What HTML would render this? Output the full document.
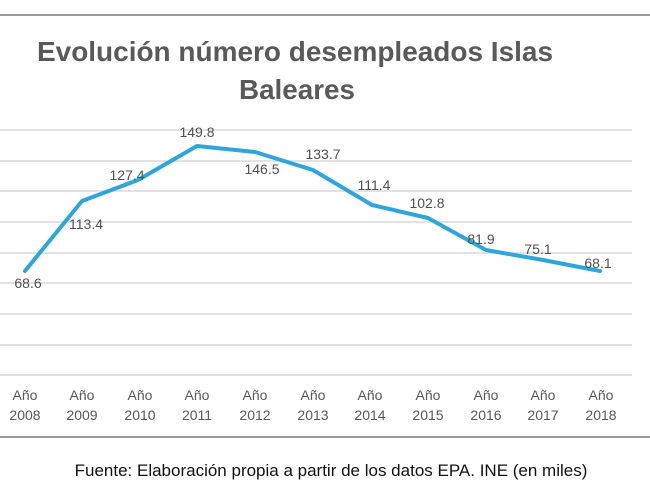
<!DOCTYPE html>
<html><head><meta charset="utf-8"><style>
body{margin:0;background:#fff;}
svg{display:block;}
</style></head><body>
<svg width="650" height="487" viewBox="0 0 650 487" xmlns="http://www.w3.org/2000/svg">
<rect width="650" height="487" fill="#fff"/>
<line x1="0" y1="15" x2="650" y2="15" stroke="#9a9a9a" stroke-width="2"/>
<line x1="0" y1="437" x2="650" y2="437" stroke="#9a9a9a" stroke-width="2"/>
<g font-family="Liberation Sans, sans-serif" font-weight="bold" fill="#595959" font-size="28" text-anchor="middle">
<text x="295" y="61" textLength="516" lengthAdjust="spacingAndGlyphs">Evolución número desempleados Islas</text>
<text x="297" y="99" textLength="116" lengthAdjust="spacingAndGlyphs">Baleares</text>
</g>
<g stroke="#d9d9d9" stroke-width="1.5">
<line x1="0" y1="130" x2="632" y2="130"/><line x1="0" y1="161" x2="632" y2="161"/>
<line x1="0" y1="191" x2="632" y2="191"/><line x1="0" y1="222" x2="632" y2="222"/>
<line x1="0" y1="253" x2="632" y2="253"/><line x1="0" y1="283" x2="632" y2="283"/>
<line x1="0" y1="314" x2="632" y2="314"/><line x1="0" y1="345" x2="632" y2="345"/>
<line x1="0" y1="375" x2="632" y2="375"/>
</g>
<polyline fill="none" stroke="#2ea6dc" stroke-width="4" stroke-linejoin="round" stroke-linecap="round"
points="25,271 82,201 138,180 197,146 255,152 313,170 372,205 428,218 486,250 543,260 600,271"/>
<g font-family="Liberation Sans, sans-serif" font-size="14" fill="#505050" text-anchor="middle">
<text x="28" y="288">68.6</text><text x="86" y="229">113.4</text><text x="127" y="180">127.4</text>
<text x="197" y="137">149.8</text><text x="262" y="174">146.5</text><text x="323" y="159">133.7</text>
<text x="374" y="190">111.4</text><text x="427" y="208">102.8</text><text x="481" y="244">81.9</text>
<text x="538" y="254">75.1</text><text x="598" y="268">68.1</text>
</g>
<g font-family="Liberation Sans, sans-serif" font-size="14" fill="#595959" text-anchor="middle">
<text x="25" y="400">Año</text><text x="25" y="420">2008</text>
<text x="82" y="400">Año</text><text x="82" y="420">2009</text>
<text x="140" y="400">Año</text><text x="140" y="420">2010</text>
<text x="197" y="400">Año</text><text x="197" y="420">2011</text>
<text x="255" y="400">Año</text><text x="255" y="420">2012</text>
<text x="313" y="400">Año</text><text x="313" y="420">2013</text>
<text x="370" y="400">Año</text><text x="370" y="420">2014</text>
<text x="428" y="400">Año</text><text x="428" y="420">2015</text>
<text x="486" y="400">Año</text><text x="486" y="420">2016</text>
<text x="543" y="400">Año</text><text x="543" y="420">2017</text>
<text x="601" y="400">Año</text><text x="601" y="420">2018</text>
</g>
<text x="331" y="476" font-family="Liberation Sans, sans-serif" font-size="17" fill="#111" text-anchor="middle">Fuente: Elaboración propia a partir de los datos EPA. INE (en miles)</text>
</svg>
</body></html>
